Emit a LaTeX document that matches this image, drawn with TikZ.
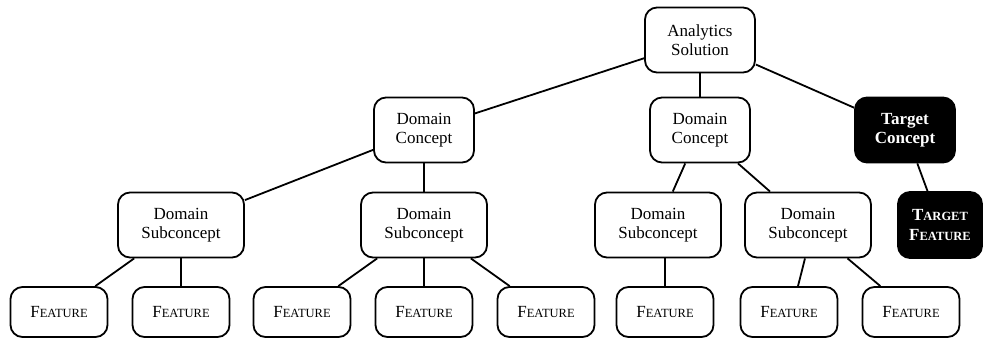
\documentclass[tikz,border=0pt]{standalone}
\usepackage{fontspec}
\setmainfont{Liberation Serif}
\newcommand{\fsc}[2]{#1{\fontsize{12.5}{14}\selectfont #2}}
\begin{document}
\begin{tikzpicture}[x=1pt,y=-1pt,
  box/.style={draw=black,line width=1.8pt,rounded corners=12pt,fill=white,
    align=center,inner sep=0pt,font=\fontsize{17}{19.5}\selectfont},
  big/.style={box,minimum width=100pt,minimum height=65pt},
  sub/.style={box,minimum width=126pt,minimum height=65pt},
  feat/.style={box,minimum width=97pt,minimum height=50pt},
  dark/.style={fill=black,text=white,font=\bfseries\fontsize{17}{19.5}\selectfont},
  link/.style={line width=1.8pt}]
\useasboundingbox (0,0) rectangle (985,340);
\node[big,minimum width=110pt] (as) at (700,40) {Analytics\\Solution};
\node[big] (dc1) at (424,130) {Domain\\Concept};
\node[big] (dc2) at (700,130) {Domain\\Concept};
\node[big,dark] (tc) at (905,130) {Target\\Concept};
\node[box,dark,minimum width=84pt,minimum height=66pt] (tf) at (940,225) {\fsc{T}{ARGET}\\\fsc{F}{EATURE}};
\node[sub] (ds1) at (181,225) {Domain\\Subconcept};
\node[sub] (ds2) at (424,225) {Domain\\Subconcept};
\node[sub] (ds3) at (658,225) {Domain\\Subconcept};
\node[sub] (ds4) at (808,225) {Domain\\Subconcept};
\node[feat] (f1) at (59,312) {\fsc{F}{EATURE}};
\node[feat] (f2) at (181,312) {\fsc{F}{EATURE}};
\node[feat] (f3) at (302,312) {\fsc{F}{EATURE}};
\node[feat] (f4) at (424,312) {\fsc{F}{EATURE}};
\node[feat] (f5) at (546,312) {\fsc{F}{EATURE}};
\node[feat] (f6) at (665,312) {\fsc{F}{EATURE}};
\node[feat] (f7) at (789,312) {\fsc{F}{EATURE}};
\node[feat] (f8) at (911,312) {\fsc{F}{EATURE}};
\draw[link] (as) -- (dc1);
\draw[link] (as) -- (dc2);
\draw[link] (as) -- (tc);
\draw[link] (dc1) -- (ds1);
\draw[link] (dc1) -- (ds2);
\draw[link] (dc2) -- (ds3);
\draw[link] (dc2) -- (ds4);
\draw[link] (tc) -- (tf);
\draw[link] (ds1) -- (f1);
\draw[link] (ds1) -- (f2);
\draw[link] (ds2) -- (f3);
\draw[link] (ds2) -- (f4);
\draw[link] (ds2) -- (f5);
\draw[link] (ds3.south -| f6) -- (f6);
\draw[link] ([xshift=-3pt]ds4.south) -- ([xshift=9pt]f7.north);
\draw[link] (ds4) -- (f8);
\end{tikzpicture}
\end{document}
